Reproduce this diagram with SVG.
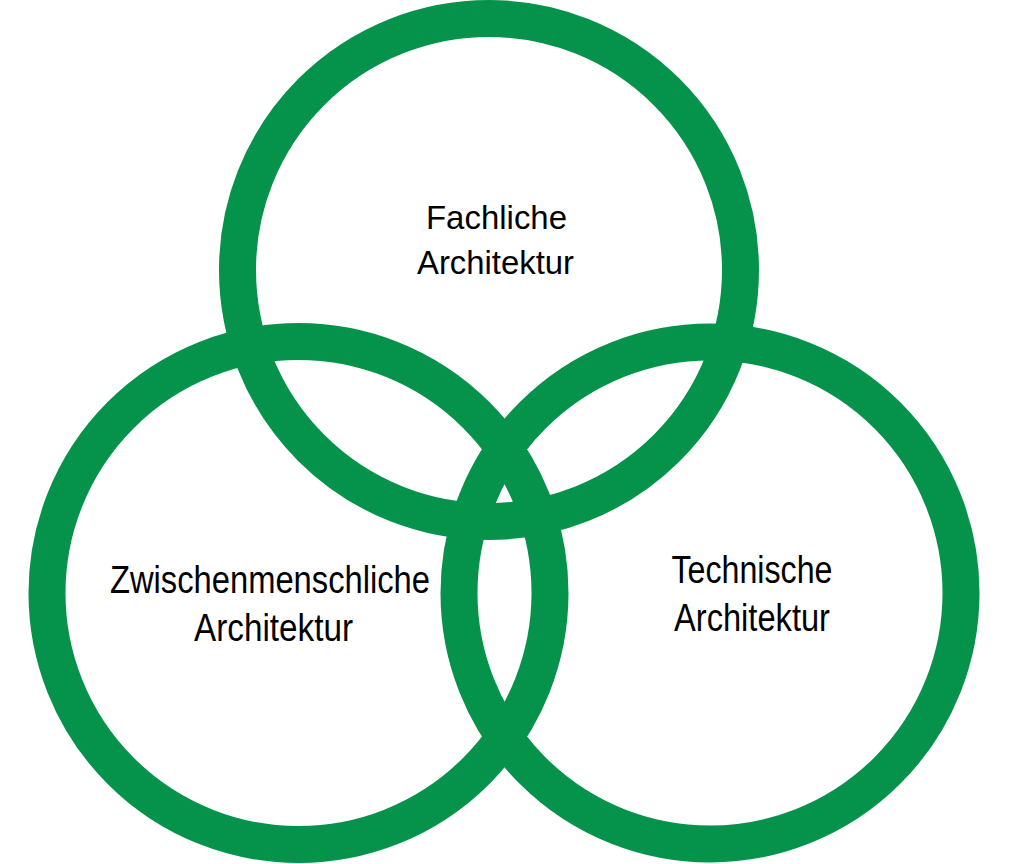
<svg xmlns="http://www.w3.org/2000/svg" width="1024" height="864" viewBox="0 0 1024 864">
<style>
.ring{fill:none;stroke:#05934b;stroke-width:37}
.lbl{font-family:"Liberation Sans",Arial,sans-serif;fill:#000;text-anchor:middle}
.t{font-size:33px}
.b{font-size:38px}
</style>
<rect width="1024" height="864" fill="#fff"/>
<g id="fachliche">
<circle class="ring" cx="489" cy="270" r="251.5"/>
<text class="lbl t" x="496.5" y="229" textLength="141" lengthAdjust="spacingAndGlyphs">Fachliche</text>
<text class="lbl t" x="495.5" y="274" textLength="157" lengthAdjust="spacingAndGlyphs">Architektur</text>
</g>
<g id="zwischenmenschliche">
<circle class="ring" cx="298.5" cy="593" r="251.5"/>
<text class="lbl b" x="270" y="593" textLength="320" lengthAdjust="spacingAndGlyphs">Zwischenmenschliche</text>
<text class="lbl b" x="273.5" y="641" textLength="159" lengthAdjust="spacingAndGlyphs">Architektur</text>
</g>
<g id="technische">
<circle class="ring" cx="710" cy="593" r="251"/>
<text class="lbl b" x="752" y="583" textLength="161" lengthAdjust="spacingAndGlyphs">Technische</text>
<text class="lbl b" x="752" y="631" textLength="156" lengthAdjust="spacingAndGlyphs">Architektur</text>
</g>
<g id="connectors"/>
</svg>
